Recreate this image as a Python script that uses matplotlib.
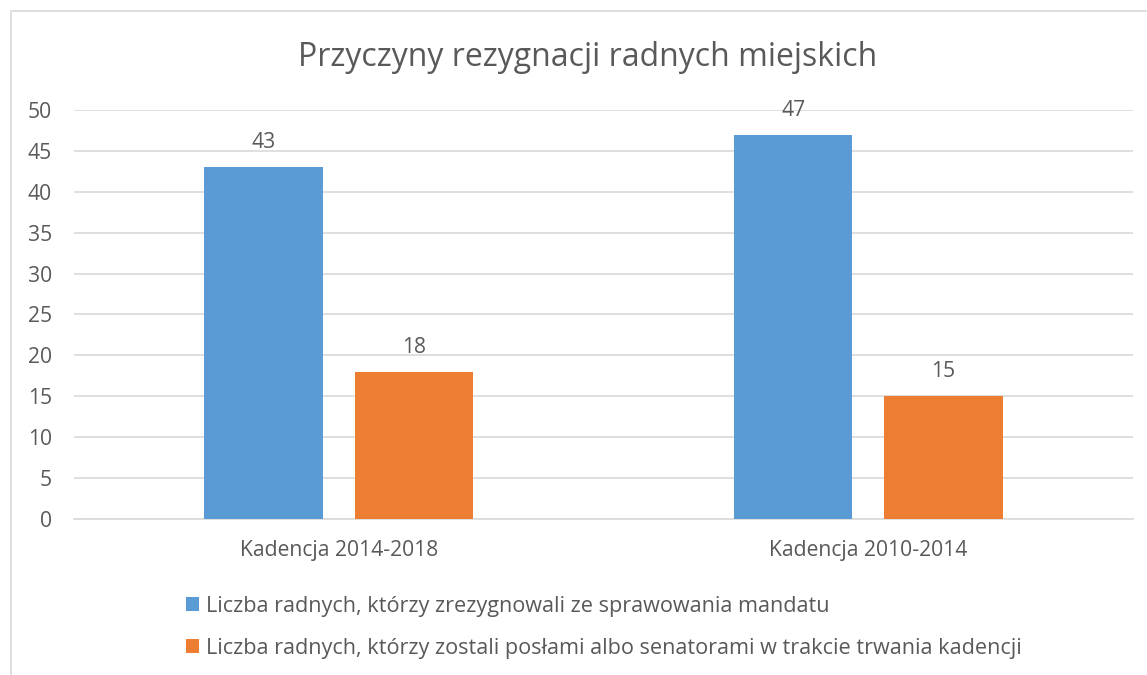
import matplotlib.pyplot as plt
import matplotlib.patches as mpatches
import numpy as np

# dane z wykresu
kadencje = ['Kadencja 2014-2018', 'Kadencja 2010-2014']
zrezygnowali = [43, 47]
poslowie_senatorowie = [18, 15]
etykiety = ['Liczba radnych, którzy zrezygnowali ze sprawowania mandatu',
            'Liczba radnych, którzy zostali posłami albo senatorami w trakcie trwania kadencji']
y_ticks = list(range(0, 51, 5))

plt.rcParams['font.family'] = ['Open Sans', 'DejaVu Sans']
szary = '#595959'
rozmiar = 15.2
W, H = 1147, 675

fig = plt.figure(figsize=(W / 100, H / 100), dpi=100)
ax = fig.add_axes([74 / W, 1 - 519 / H, (1133 - 74) / W, (519 - 110) / H])

x = np.arange(len(kadencje))
szer = 0.2237
przes = 0.1417
b1 = ax.bar(x - przes, zrezygnowali, szer, color='#5B9BD5', label=etykiety[0], zorder=3)
b2 = ax.bar(x + przes, poslowie_senatorowie, szer, color='#ED7D31', label=etykiety[1], zorder=3)

# etykiety danych nad słupkami
for bars in (b1, b2):
    for b in bars:
        ax.annotate(str(int(b.get_height())), (b.get_x() + b.get_width() / 2, b.get_height()),
                    xytext=(0, 10), textcoords='offset points', ha='center', va='bottom',
                    fontsize=rozmiar, color=szary)

ax.set_xlim(-0.5, 1.5)
ax.set_ylim(0, 50)
ax.set_yticks(y_ticks)
ax.set_xticks(x)
ax.set_xticklabels(kadencje)
ax.tick_params(axis='both', length=0, labelsize=rozmiar, colors=szary)
ax.tick_params(axis='y', pad=16)
ax.tick_params(axis='x', pad=15)
ax.grid(axis='y', color='#D9D9D9', linewidth=1.2, zorder=0)
for s in ['top', 'right', 'left']:
    ax.spines[s].set_visible(False)
ax.spines['bottom'].set_color('#D9D9D9')
ax.spines['bottom'].set_linewidth(1.2)

fig.text(0.5 * (298 + 877) / W, 1 - 57 / H, 'Przyczyny rezygnacji radnych miejskich',
         ha='center', va='center', fontsize=23, color=szary)

fig.legend(handles=[b1, b2], labels=etykiety, loc='upper left',
           bbox_to_anchor=(186 / W, 1 - 596 / H), frameon=False, fontsize=15.6,
           labelcolor=szary, handlelength=0.6, handleheight=0.6, handletextpad=0.32,
           labelspacing=0.95, borderpad=0, borderaxespad=0)

# ramka wykresu (częściowo ucięta)
fig.patches.append(mpatches.Rectangle((10.5 / W, -0.1), 2, 1.1 - 11.5 / H,
                                      transform=fig.transFigure, fill=False,
                                      edgecolor='#D9D9D9', linewidth=1.2))

fig.savefig('out.png', dpi=100)
